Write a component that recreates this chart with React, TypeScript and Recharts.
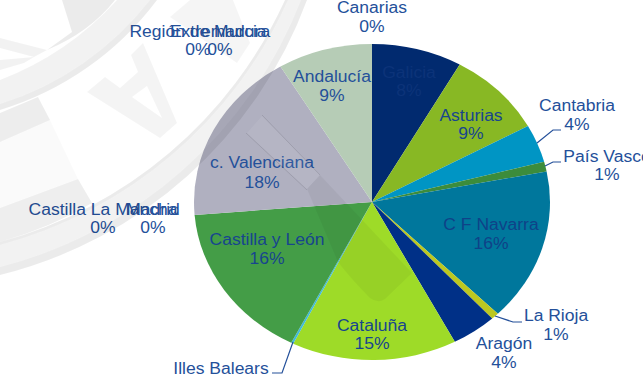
import React from "react";
import { PieChart, Pie, Cell, Sector } from "recharts";

const names = ["Galicia","Asturias","Cantabria","País Vasco","C F Navarra","La Rioja","Aragón","Cataluña","Illes Balears","Castilla y León","c. Valenciana","Andalucía","Canarias","Región de Murcia","Extremadura","Castilla La Mancha","Madrid"];
const shares = [8.2,8.8,3.9,1.0,15.6,0.7,4.1,15.0,0.2,16.2,17.7,8.6,0,0,0,0,0];
const colors = ["#012A6F","#88B824","#0095C4","#3C8C3C","#00779C","#BCC820","#003087","#9EDB28","#40BBD8","#449D47","#B0B0C0","#B6CCB6","#888888","#888888","#888888","#888888","#888888"];

const data = names.map((name, i) => ({ name, value: shares[i] }));

// label layout: [centre x, first baseline, second baseline]
const labelAt: Record<string, [number, number, number]> = {
  "Galicia": [409, 78, 96],
  "Asturias": [471, 121, 139],
  "Cantabria": [577, 111, 130],
  "País Vasco": [607, 162, 180],
  "C F Navarra": [491, 230, 249],
  "La Rioja": [556, 321, 340],
  "Aragón": [504, 349, 368],
  "Cataluña": [372, 331, 349],
  "Illes Balears": [221, 374, 393],
  "Castilla y León": [267, 245, 264],
  "c. Valenciana": [262, 168, 188],
  "Andalucía": [332, 82, 101],
  "Canarias": [372, 13, 32],
  "Región de Murcia": [198, 37, 55],
  "Extremadura": [220, 37, 55],
  "Castilla La Mancha": [103, 215, 233],
  "Madrid": [153, 215, 233],
};
const leaders: Record<string, string> = {
  "Cantabria": "537,143 553,130 561,130",
  "País Vasco": "545,166 553,162 561,162",
  "La Rioja": "495,316 513,322 522,322",
  "Illes Balears": "293,342 282,373 272,373",
};
const textColors: Record<string, string> = {
  "Galicia": "#0C3379",
  "C F Navarra": "#0F4288",
  "Asturias": "#17458E",
  "Castilla y León": "#17458E",
  "Cataluña": "#17458E",
};

const TEXT = "#24509A";
const CX = 372, CY = 202, RX = 178, RY = 158;

const renderLabel = (p: any) => {
  const at = labelAt[p.name];
  if (!at) return null;
  const pct = `${Math.round(p.value)}%`;
  const color = textColors[p.name] ?? TEXT;
  const one = (s: string, y: number) => (
    <text transform={`translate(${at[0]},${y}) scale(1.095,1)`} textAnchor="middle" fontFamily="'Liberation Sans', Arial, sans-serif" fontSize={16} fill={color}>{s}</text>
  );
  return (
    <g key={p.name}>
      {leaders[p.name] && <polyline points={leaders[p.name]} fill="none" stroke={TEXT} strokeWidth={1.2} />}
      {one(p.name, at[1])}
      {one(pct, at[2])}
    </g>
  );
};

const ovalSector = (p: any) => (
  <g transform={`translate(0,${CY}) scale(1,${RY / RX}) translate(0,${-CY})`}>
    <Sector {...p} stroke="none" />
  </g>
);

const Watermark = () => (
  <svg width={643} height={379} style={{ position: "absolute", left: 0, top: 0, pointerEvents: "none" }}>
    <defs>
      <clipPath id="pieClip"><ellipse cx={CX} cy={CY} rx={RX} ry={RY} /></clipPath>
    </defs>
    <g fill="#000">
      {/* outer ring */}
      <path d="M0,275 A440,440 0 0 0 307,0 L301,0 A440,440 0 0 1 0,267 Z" fillOpacity={0.08} />
      <path d="M0,267 A440,440 0 0 0 301,0 L288,0 A440,440 0 0 1 0,245 Z" fillOpacity={0.05} />
      <path d="M0,245 A440,440 0 0 0 288,0 L285,0 A440,440 0 0 1 0,242 Z" fillOpacity={0.08} />
      {/* inner ring */}
      <path d="M0,110 A307,307 0 0 0 157,0 L150,0 A307,307 0 0 1 0,104 Z" fillOpacity={0.08} />
      <path d="M0,104 A307,307 0 0 0 150,0 L117,0 A307,307 0 0 1 0,80 Z" fillOpacity={0.05} />
      {/* seal wedges */}
      <path d="M62,0 L72,32 L47,50 Q90,32 115,0 Z" fillOpacity={0.08} />
      <path d="M0,38 L47,50 L34,57 L0,48 Z" fillOpacity={0.05} />
      <path d="M0,60 L34,57 L24,63 L0,70 Z" fillOpacity={0.05} />
      <path d="M0,113 L38,97 L50,120 L0,142 Z" fillOpacity={0.07} />
      <path d="M0,142 L50,120 L78,179 L0,208 Z" fillOpacity={0.02} />
      <path d="M0,208 L78,179 L92,203 Q50,228 0,242 Z" fillOpacity={0.065} />
      {/* letters */}
      <path fillRule="evenodd" fillOpacity={0.045} d="M143,43 L177,123 L160,138 L87,92 L105,77 L120,88 L138,72 L131,55 Z M132,97 L147,86 L162,118 Z" />
      <path fillOpacity={0.04} d="M170,17 L190,0 L233,0 L250,43 L237,63 Z" />
    </g>
    <g clipPath="url(#pieClip)">
      <path d="M247,133 L262,116 L320,175 L307,189 Z" fill="#fff" fillOpacity={0.07} />
      <path d="M307,189 L320,175 L412,273 L385,299 Q378,304 370,298 Q352,280 338,262 Z" fill="#000" fillOpacity={0.045} />
      <path d="M246,133 L307,190 M262,115 L320,175" stroke="#000" strokeOpacity={0.1} fill="none" />
    </g>
  </svg>
);

export default function App() {
  return (
    <div style={{ position: "absolute", left: 0, top: 0, width: 643, height: 379, overflow: "hidden", background: "#fff" }}>
      <PieChart width={643} height={379} margin={{ top: 0, right: 0, bottom: 0, left: 0 }}>
        <Pie
          data={data}
          dataKey="value"
          nameKey="name"
          cx={CX}
          cy={CY}
          outerRadius={RX}
          innerRadius={0}
          startAngle={90}
          endAngle={-270}
          stroke="none"
          shape={ovalSector}
          label={renderLabel}
          labelLine={false}
          isAnimationActive={false}
        >
          {data.map((d, i) => (
            <Cell key={d.name} fill={colors[i]} />
          ))}
        </Pie>
      </PieChart>
      <Watermark />
    </div>
  );
}
